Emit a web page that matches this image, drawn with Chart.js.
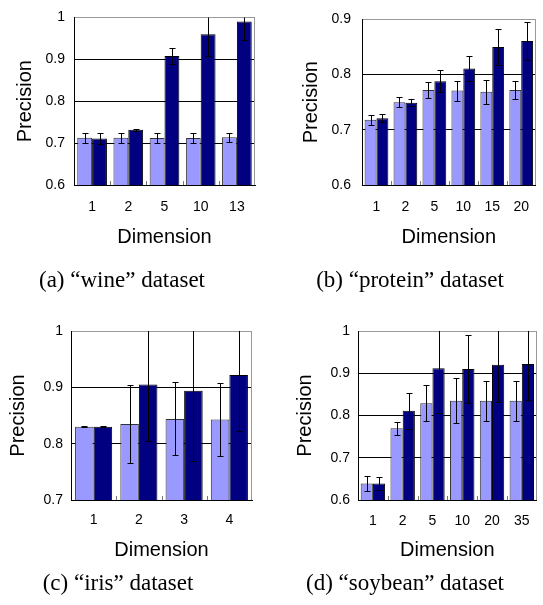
<!DOCTYPE html>
<html>
<head>
<meta charset="utf-8">
<script src="https://cdn.jsdelivr.net/npm/chart.js@4.4.0/dist/chart.umd.min.js"></script>
<style>
  html, body { margin: 0; padding: 0; background: #fff; }
  body { width: 543px; height: 605px; position: relative; overflow: hidden; }
  canvas { position: absolute; }
  .cap { position: absolute; width: 300px; text-align: center; font-family: 'Liberation Serif', 'Times New Roman', serif; font-size: 23px; line-height: 26px; color: #000; white-space: nowrap; }
</style>
</head>
<body>
<canvas id="cA" width="271" height="300" style="left:0;top:0"></canvas>
<canvas id="cB" width="272" height="300" style="left:271px;top:0"></canvas>
<canvas id="cC" width="271" height="300" style="left:0;top:300px"></canvas>
<canvas id="cD" width="272" height="300" style="left:271px;top:300px"></canvas>
<div class="cap" style="left:-28px;top:267px">(a) “wine” dataset</div>
<div class="cap" style="left:260px;top:267px">(b) “protein” dataset</div>
<div class="cap" style="left:-32px;top:570px">(c) “iris” dataset</div>
<div class="cap" style="left:255px;top:570px">(d) “soybean” dataset</div>
<script>
// ---------- data ----------
const dimsWine = ['1', '2', '5', '10', '13'];
const wineLight = [0.713, 0.713, 0.712, 0.712, 0.714];
const wineLightErr = [0.012, 0.012, 0.012, 0.012, 0.011];
const wineDark = [0.711, 0.732, 0.908, 0.960, 0.990];
const wineDarkErr = [0.013, 0.002, 0.019, 0.052, 0.045];
const wineTicks = [0.6, 0.7, 0.8, 0.9, 1];

const dimsProtein = ['1', '2', '5', '10', '15', '20'];
const proteinLight = [0.718, 0.750, 0.772, 0.771, 0.769, 0.772];
const proteinLightErr = [0.009, 0.009, 0.015, 0.018, 0.022, 0.016];
const proteinDark = [0.721, 0.749, 0.788, 0.811, 0.850, 0.861];
const proteinDarkErr = [0.0075, 0.006, 0.020, 0.022, 0.032, 0.035];
const proteinTicks = [0.6, 0.7, 0.8, 0.9];

const dimsIris = ['1', '2', '3', '4'];
const irisLight = [0.830, 0.835, 0.844, 0.843];
const irisLightErr = [0.0005, 0.069, 0.065, 0.065];
const irisDark = [0.830, 0.905, 0.894, 0.922];
const irisDarkErr = [0.0005, 0.101, 0.124, 0.100];
const irisTicks = [0.7, 0.8, 0.9, 1];

const dimsSoybean = ['1', '2', '5', '10', '20', '35'];
const soyLight = [0.639, 0.770, 0.829, 0.835, 0.835, 0.835];
const soyLightErr = [0.018, 0.015, 0.043, 0.053, 0.047, 0.047];
const soyDark = [0.639, 0.811, 0.912, 0.910, 0.920, 0.922];
const soyDarkErr = [0.016, 0.042, 0.107, 0.080, 0.088, 0.086];
const soyTicks = [0.6, 0.7, 0.8, 0.9, 1];

// ---------- plugins ----------
const frameAndErrors = {
  id: 'frameAndErrors',
  afterDatasetsDraw(chart) {
    const { ctx, chartArea: ca, scales: { x, y } } = chart;
    ctx.save();
    // right border (gray)
    ctx.strokeStyle = '#999';
    ctx.lineWidth = 1;
    ctx.beginPath();
    const rx = Math.round(ca.right) - 0.5;
    ctx.moveTo(rx, ca.top);
    ctx.lineTo(rx, ca.bottom);
    ctx.stroke();
    // inside tick marks at category boundaries
    const n = chart.data.labels.length;
    const step = x.getPixelForValue(1) - x.getPixelForValue(0);
    ctx.strokeStyle = '#777';
    ctx.beginPath();
    for (let i = 1; i < n; i++) {
      const bx = Math.round(x.getPixelForValue(i) - step / 2) + 0.5;
      ctx.moveTo(bx, ca.bottom);
      ctx.lineTo(bx, ca.bottom - 4);
    }
    ctx.stroke();
    // error bars
    ctx.beginPath();
    ctx.rect(ca.left, ca.top, ca.right - ca.left, ca.bottom - ca.top);
    ctx.clip();
    ctx.strokeStyle = '#000';
    ctx.lineWidth = 1;
    chart.data.datasets.forEach((ds, di) => {
      const meta = chart.getDatasetMeta(di);
      meta.data.forEach((bar, i) => {
        const e = ds.errors[i];
        const v = ds.data[i];
        const yt = Math.round(y.getPixelForValue(v + e)) + 0.5;
        const yb = Math.round(y.getPixelForValue(v - e)) + 0.5;
        const bx = Math.round(bar.x) + 0.5;
        ctx.beginPath();
        ctx.moveTo(bx, yt);
        ctx.lineTo(bx, yb);
        ctx.moveTo(bx - 3, yt);
        ctx.lineTo(bx + 3, yt);
        ctx.moveTo(bx - 3, yb);
        ctx.lineTo(bx + 3, yb);
        ctx.stroke();
      });
    });
    ctx.restore();
  }
};

const FONT = "'Liberation Sans', Arial, sans-serif";

function makeChart(id, cfg) {
  const yMax = cfg.ticks[cfg.ticks.length - 1];
  return new Chart(document.getElementById(id), {
    type: 'bar',
    data: {
      labels: cfg.labels,
      datasets: [
        { data: cfg.light, errors: cfg.lightErr, backgroundColor: '#9999FF', borderColor: '#333', borderWidth: 1, borderSkipped: false },
        { data: cfg.dark, errors: cfg.darkErr, backgroundColor: '#000080', borderColor: '#000', borderWidth: 1, borderSkipped: false }
      ]
    },
    options: {
      responsive: false,
      animation: false,
      devicePixelRatio: 1,
      layout: { padding: cfg.pad },
      datasets: { bar: { categoryPercentage: 0.82, barPercentage: 1.0 } },
      plugins: { legend: { display: false }, tooltip: { enabled: false }, title: { display: false } },
      scales: {
        x: {
          grid: { display: false, drawTicks: false },
          border: { display: true, color: '#000', width: 1 },
          ticks: { color: '#000', font: { family: FONT, size: 14 }, padding: cfg.xTickPad, maxRotation: 0 },
          title: { display: true, text: 'Dimension', color: '#000', font: { family: FONT, size: 20 }, padding: { top: 0, bottom: cfg.xTitlePad } },
          afterFit: s => { s.height = 70; }
        },
        y: {
          min: cfg.ticks[0],
          max: yMax,
          afterBuildTicks: s => { s.ticks = cfg.ticks.map(v => ({ value: v })); },
          grid: { drawTicks: false, color: c => (c.tick && Math.abs(c.tick.value - yMax) < 1e-9) ? '#999' : '#000', lineWidth: 1 },
          border: { display: true, color: '#000', width: 1 },
          ticks: { color: '#000', font: { family: FONT, size: 14 }, padding: cfg.yTickPad, callback: v => String(+v.toFixed(2)) },
          title: { display: true, text: 'Precision', color: '#000', font: { family: FONT, size: 20 }, padding: { top: cfg.yTitlePad, bottom: 0 } },
          afterFit: s => { s.width = cfg.yWidth; }
        }
      }
    },
    plugins: [frameAndErrors]
  });
}

makeChart('cA', { labels: dimsWine, light: wineLight, lightErr: wineLightErr, dark: wineDark, darkErr: wineDarkErr, ticks: wineTicks,
  pad: { top: 16, right: 16, bottom: 45, left: 0 }, yWidth: 74, yTickPad: 9, yTitlePad: 13, xTickPad: 14, xTitlePad: 6 });
makeChart('cB', { labels: dimsProtein, light: proteinLight, lightErr: proteinLightErr, dark: proteinDark, darkErr: proteinDarkErr, ticks: proteinTicks,
  pad: { top: 16, right: 0, bottom: 45, left: 0 }, yWidth: 91, yTickPad: 11, yTitlePad: 28, xTickPad: 14, xTitlePad: 6 });
makeChart('cC', { labels: dimsIris, light: irisLight, lightErr: irisLightErr, dark: irisDark, darkErr: irisDarkErr, ticks: irisTicks,
  pad: { top: 31, right: 19, bottom: 30, left: 0 }, yWidth: 71, yTickPad: 8, yTitlePad: 6, xTickPad: 12, xTitlePad: 8 });
makeChart('cD', { labels: dimsSoybean, light: soyLight, lightErr: soyLightErr, dark: soyDark, darkErr: soyDarkErr, ticks: soyTicks,
  pad: { top: 31, right: 5, bottom: 30, left: 0 }, yWidth: 87, yTickPad: 8, yTitlePad: 22, xTickPad: 13, xTitlePad: 8 });
</script>
</body>
</html>
